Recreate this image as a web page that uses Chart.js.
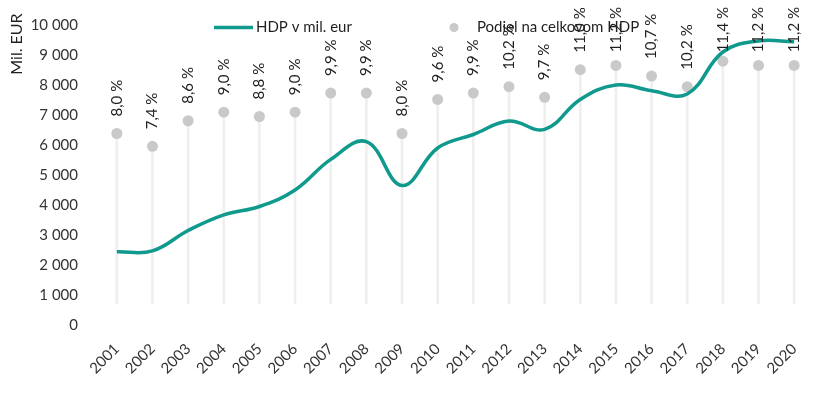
<!DOCTYPE html>
<html lang="sk">
<head>
<meta charset="utf-8">
<title>HDP v mil. eur</title>
<script src="https://cdn.jsdelivr.net/npm/chart.js@4.4.1/dist/chart.umd.min.js"></script>
<style>
  html, body { margin:0; padding:0; background:#fff; }
  #wrap { width:832px; height:399px; position:relative; }
</style>
</head>
<body>
<div id="wrap"><canvas id="chartHdp"></canvas></div>
<script>
// dáta z grafu
const roky = ['2001','2002','2003','2004','2005','2006','2007','2008','2009','2010',
              '2011','2012','2013','2014','2015','2016','2017','2018','2019','2020'];
const hdp = [2440, 2470, 3150, 3670, 3950, 4500, 5520, 6110, 4650, 5900,
             6350, 6800, 6520, 7520, 8000, 7810, 7700, 9100, 9470, 9440];
const podiel = [8.0, 7.4, 8.6, 9.0, 8.8, 9.0, 9.9, 9.9, 8.0, 9.6,
                9.9, 10.2, 9.7, 11.0, 11.2, 10.7, 10.2, 11.4, 11.2, 11.2];

const TEAL = '#10998d';
const DOT = '#c9c9c9';
const DROP = '#efefef';
const TXT = '#1f1f1f';
const FONT = 'Lato, "Open Sans", sans-serif';

const fmtTis = v => String(v).replace(/\B(?=(\d{3})+(?!\d))/g, ' ');
const fmtPct = v => v.toFixed(1).replace('.', ',') + ' %';

/* -------------------------------------------
   popisky percent (zvisle nad bodmi)
-------------------------------------------- */
const percentLabels = {
  id: 'percentLabels',
  afterDatasetsDraw(chart) {
    const ctx = chart.ctx;
    const meta = chart.getDatasetMeta(1);
    ctx.save();
    ctx.font = '15px ' + FONT;
    ctx.fillStyle = TXT;
    ctx.textBaseline = 'middle';
    ctx.textAlign = 'left';
    meta.data.forEach((pt, i) => {
      const txt = fmtPct(podiel[i]);
      const w = ctx.measureText(txt).width;
      let bottom = pt.y - 17;
      if (bottom - w < 7) bottom = 7 + w;   // Excel tlačí popisky dole pri hornom okraji
      ctx.save();
      ctx.translate(pt.x, bottom);
      ctx.rotate(-Math.PI / 2);
      ctx.fillText(txt, 0, 0);
      ctx.restore();
    });
    ctx.restore();
  }
};

/* -------------------------------------------
   legenda + nadpis osi
-------------------------------------------- */
const legendAndTitle = {
  id: 'legendAndTitle',
  afterDraw(chart) {
    const ctx = chart.ctx;
    const ds = chart.data.datasets;
    const y = 27.5;
    ctx.save();
    ctx.font = '15px ' + FONT;
    ctx.fillStyle = TXT;
    ctx.textBaseline = 'middle';

    ctx.strokeStyle = TEAL;
    ctx.lineWidth = 3.5;
    ctx.beginPath(); ctx.moveTo(214, y); ctx.lineTo(253, y); ctx.stroke();
    ctx.fillText(ds[0].label, 256, y);

    ctx.fillStyle = DOT;
    ctx.beginPath(); ctx.arc(454, y, 4.5, 0, Math.PI * 2); ctx.fill();
    ctx.fillStyle = TXT;
    ctx.fillText(ds[1].label, 477, y);

    // Mil. EUR
    ctx.font = '16px ' + FONT;
    ctx.textAlign = 'center';
    ctx.translate(17, 44);
    ctx.rotate(-Math.PI / 2);
    ctx.fillText('Mil. EUR', 0, 0);
    ctx.restore();
  }
};

const ctx = document.getElementById('chartHdp').getContext('2d');
new Chart(ctx, {
  type: 'line',
  data: {
    labels: roky,
    datasets: [
      { label: 'HDP v mil. eur', data: hdp, yAxisID: 'y',
        borderColor: TEAL, borderWidth: 3.5, tension: 0.4,
        pointRadius: 0, fill: false, order: 1 },
      { label: 'Podiel na celkovom HDP', data: podiel, yAxisID: 'y1',
        showLine: false, pointRadius: 5.5, pointBackgroundColor: DOT,
        pointBorderWidth: 0, order: 2 },
      { type: 'bar', label: 'drop', data: podiel.map(v => [0, v]), yAxisID: 'y1',
        backgroundColor: DROP, barThickness: 2, order: 3 }
    ]
  },
  options: {
    responsive: true,
    maintainAspectRatio: false,
    animation: false,
    layout: { padding: { top: 25, right: 20, left: 0, bottom: 0 } },
    plugins: { legend: { display: false }, tooltip: { enabled: false } },
    scales: {
      x: {
        offset: true,
        grid: { display: false },
        border: { display: false },
        ticks: { color: '#333', font: { family: FONT, size: 15 },
                 minRotation: 45, maxRotation: 45, padding: 7 },
        afterFit: s => { s.height = 74; }
      },
      y: {
        min: 0, max: 10000,
        grid: { display: false },
        border: { display: false },
        ticks: { stepSize: 1000, color: '#333', padding: 13,
                 font: { family: FONT, size: 15 }, callback: v => fmtTis(v) },
        afterFit: s => { s.width = 99; }
      },
      y1: { display: false, min: -1, max: 13.1 }
    }
  },
  plugins: [percentLabels, legendAndTitle]
});
</script>
</body>
</html>
